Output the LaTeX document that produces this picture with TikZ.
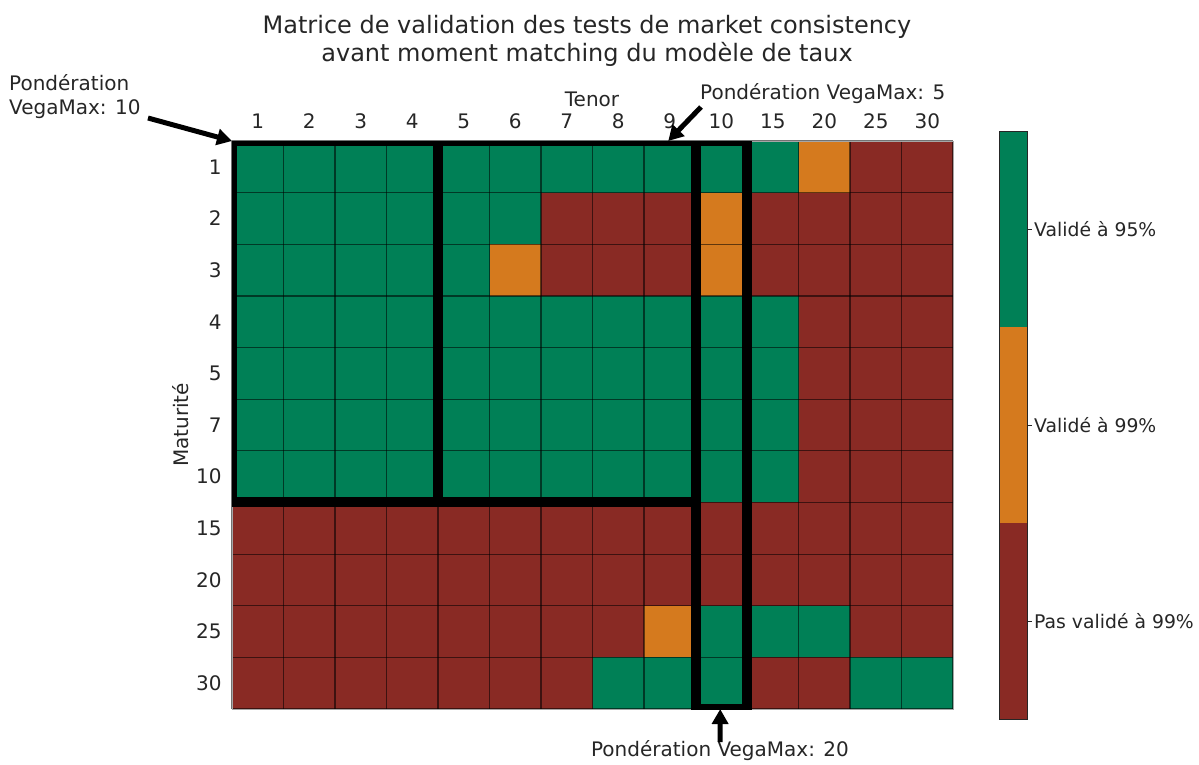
\documentclass[tikz,border=0pt]{standalone}
\usepackage{fontspec}
\setmainfont{DejaVu Sans}
\usetikzlibrary{arrows.meta}

\definecolor{cg}{RGB}{0,128,86}
\definecolor{co}{RGB}{213,122,30}
\definecolor{cr}{RGB}{137,42,36}
\definecolor{ink}{RGB}{38,38,38}

\tikzset{
  lbl/.style={inner sep=0pt, text=ink, font=\fontsize{20}{24}\selectfont},
  barlbl/.style={lbl, anchor=west, font=\fontsize{18.8}{22}\selectfont},
  cellbox/.style={draw=black, draw opacity=0.55, line width=1.2pt},
  groupbox/.style={draw=black, line width=10pt, line join=miter},
  pointer/.style={draw=black, line width=5pt, -{Triangle[length=15pt,width=16pt]}},
}

\begin{document}
\begin{tikzpicture}[x=1pt, y=-1pt]
\useasboundingbox (0,0) rectangle (1199,764);

% title
\node[lbl, align=center, font=\fontsize{24}{28.5}\selectfont] (title) at (587,41)
  {Matrice de validation des tests de market consistency\\avant moment matching du modèle de taux};

% axis labels
\node[lbl] (tenor) at (592,99) {Tenor};
\node[lbl, rotate=90] (maturite) at (181,425) {Maturité};

% heat map: 11 maturities x 14 tenors
\begin{scope}[shift={(232,141)}, x=51.5pt, y=-51.64pt]
  \foreach \r [count=\j from 0] in {
      {g,g,g,g,g,g,g,g,g,g,g,o,r,r},
      {g,g,g,g,g,g,r,r,r,o,r,r,r,r},
      {g,g,g,g,g,o,r,r,r,o,r,r,r,r},
      {g,g,g,g,g,g,g,g,g,g,g,r,r,r},
      {g,g,g,g,g,g,g,g,g,g,g,r,r,r},
      {g,g,g,g,g,g,g,g,g,g,g,r,r,r},
      {g,g,g,g,g,g,g,g,g,g,g,r,r,r},
      {r,r,r,r,r,r,r,r,r,r,r,r,r,r},
      {r,r,r,r,r,r,r,r,r,r,r,r,r,r},
      {r,r,r,r,r,r,r,r,o,g,g,g,r,r},
      {r,r,r,r,r,r,r,g,g,g,r,r,g,g}}{
    \foreach \c [count=\i from 0] in \r {
      \fill[c\c] (\i,\j) rectangle ++(1,1);
    }
  }
  \foreach \i in {0,...,14} \draw[cellbox] (\i,0) -- (\i,11);
  \foreach \j in {0,...,11} \draw[cellbox] (0,\j) -- (14,\j);
  \draw[gray!70, line width=0.8pt] (0,0) rectangle (14,11);

  % weighting groups
  \begin{scope}
    \clip (0,0) rectangle (14,11);
    \draw[groupbox] (0,0) rectangle (4,7);
    \draw[groupbox] (4,0) rectangle (9,7);
    \draw[groupbox] (9,0) rectangle (10,11);
  \end{scope}

  % tick labels
  \foreach \t [count=\i from 0] in {1,2,3,4,5,6,7,8,9,10,15,20,25,30}
    \node[lbl] (col\i) at (\i+0.5,-0.38) {\t};
  \foreach \t [count=\j from 0] in {1,2,3,4,5,7,10,15,20,25,30}
    \node[lbl, anchor=east] (row\j) at (-0.2,\j+0.5) {\t};

  % arrow targets on the grid
  \coordinate (tipA) at (0,0);
  \coordinate (tipB) at (8.47,0);
  \coordinate (tipC) at (9.48,11);
\end{scope}

% weighting annotations
\node[lbl, align=left, anchor=west] (noteA) at (9,97) {Pondération\\VegaMax: 10};
\node[lbl, anchor=west] (noteB) at (700,94) {Pondération VegaMax: 5};
\node[lbl] (noteC) at (720,751) {Pondération VegaMax: 20};

\coordinate (tailA) at (148,118);
\coordinate (tailB) at (701,107);
\coordinate (tailC) at (720,742);
\draw[pointer] (tailA) -- (tipA);
\draw[pointer] (tailB) -- (tipB);
\draw[pointer] (tailC) -- (tipC);

% colour bar
\fill[cg] (999,131) rectangle (1027,327);
\fill[co] (999,327) rectangle (1027,523);
\fill[cr] (999,523) rectangle (1027,719);
\draw[ink, line width=0.8pt] (999,131) rectangle (1027,719);
\foreach \y/\t/\n in {229/Validé à 95\%/k95, 425/Validé à 99\%/k99, 621/Pas validé à 99\%/kno} {
  \draw[ink, line width=0.8pt] (1027,\y) -- (1032,\y);
  \node[barlbl] (\n) at (1034,\y) {\t};
}
\end{tikzpicture}
\end{document}
